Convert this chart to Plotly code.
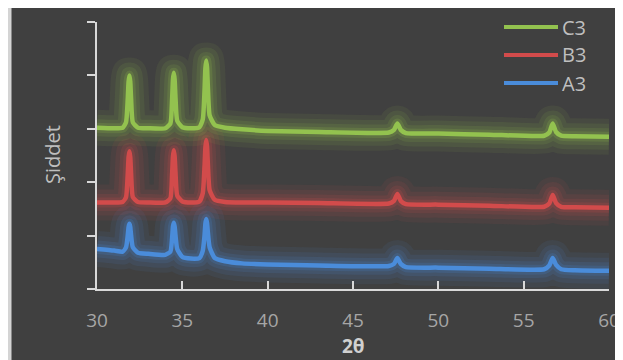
import plotly.graph_objects as go

# ---------------- data ----------------
two_theta = [30, 31, 31.5, 31.7, 31.8, 31.85, 31.9, 31.95, 32.0, 32.1, 32.4, 33, 34,
             34.3, 34.4, 34.45, 34.5, 34.55, 34.6, 34.7, 35.0, 35.5, 36.0,
             36.2, 36.3, 36.35, 36.4, 36.45, 36.5, 36.6, 36.9, 37.5, 38.5, 40, 43,
             47.1, 47.4, 47.6, 47.8, 48.1, 50, 53, 56.2, 56.5, 56.7, 56.9, 57.2, 58, 60]

c3 = [3.02, 3.01, 3.02, 3.12, 3.55, 3.88, 4.00, 3.88, 3.55, 3.12, 3.02, 3.01, 3.01,
      3.10, 3.55, 3.92, 4.05, 3.92, 3.58, 3.15, 3.03, 3.01, 3.03,
      3.18, 3.72, 4.13, 4.28, 4.14, 3.76, 3.25, 3.07, 3.02, 2.99, 2.96, 2.94,
      2.93, 2.98, 3.10, 2.98, 2.92, 2.91, 2.89, 2.87, 2.93, 3.10, 2.94, 2.87, 2.86, 2.85]

b3 = [1.62, 1.62, 1.63, 1.72, 2.15, 2.47, 2.58, 2.47, 2.15, 1.72, 1.63, 1.62, 1.62,
      1.70, 2.15, 2.48, 2.60, 2.48, 2.18, 1.75, 1.64, 1.62, 1.64,
      1.80, 2.30, 2.65, 2.79, 2.66, 2.32, 1.85, 1.67, 1.63, 1.62, 1.62, 1.61,
      1.60, 1.65, 1.78, 1.65, 1.59, 1.58, 1.56, 1.54, 1.60, 1.76, 1.61, 1.54, 1.53, 1.52]

a3 = [0.75, 0.72, 0.70, 0.78, 1.00, 1.16, 1.22, 1.16, 1.00, 0.78, 0.68, 0.66, 0.64,
      0.70, 0.95, 1.17, 1.24, 1.17, 1.00, 0.75, 0.60, 0.57, 0.58,
      0.72, 1.00, 1.22, 1.31, 1.23, 1.05, 0.78, 0.58, 0.52, 0.48, 0.46, 0.44,
      0.43, 0.47, 0.58, 0.47, 0.41, 0.40, 0.38, 0.37, 0.44, 0.58, 0.45, 0.37, 0.35, 0.34]

series_names = ["C3", "B3", "A3"]
x_ticks = [30, 35, 40, 45, 50, 55, 60]
y_ticks = [0, 1, 2, 3, 4, 5]

# ---------------- style ----------------
colors = {"C3": (147, 194, 79), "B3": (210, 75, 75), "A3": (74, 140, 218)}
BG = "#404040"
AX = "#d9d9d9"
TXT = "#a6a6a6"
FONT = "Open Sans"

series = {"C3": c3, "B3": b3, "A3": a3}
fig = go.Figure()

glow_layers = [(36, 0.08), (26, 0.10), (17, 0.13), (10, 0.18)]
for name in ["A3", "B3", "C3"]:
    r, g, b = colors[name]
    for w, a in glow_layers:
        fig.add_trace(go.Scatter(x=two_theta, y=series[name], mode="lines",
                                 line=dict(color=f"rgba({r},{g},{b},{a})", width=w,
                                           shape="spline", smoothing=0.5),
                                 hoverinfo="skip", showlegend=False))
for name in ["A3", "B3", "C3"]:
    r, g, b = colors[name]
    fig.add_trace(go.Scatter(x=two_theta, y=series[name], mode="lines", name=name,
                             line=dict(color=f"rgb({r},{g},{b})", width=4.5,
                                       shape="spline", smoothing=0.5),
                             showlegend=False))

# page body adds an 8px offset; figure pixel coords = screen - 8
OFF = 8
FW, FH = 623 - OFF, 360 - OFF
L, R, T, B = 97 - OFF, 609 - OFF, 22 - OFF, 289 - OFF
W, H = R - L, B - T


def px(xs):  # screen x pixel -> paper
    return (xs - OFF - L) / W


def py(ys):  # screen y pixel -> paper
    return (B - (ys - OFF)) / H


shapes = []
# light border strip at left
shapes.append(dict(type="rect", xref="paper", yref="paper", x0=px(8), x1=px(11.5),
                   y0=py(360), y1=py(8), fillcolor="#d4d4d4", line=dict(width=0), layer="below"))

# custom legend
annotations = []
legend_rows = {"C3": 27, "B3": 55, "A3": 83}
for name in series_names:
    r, g, b = colors[name]
    yy = py(legend_rows[name])
    shapes.append(dict(type="line", xref="paper", yref="paper", x0=px(504), x1=px(558),
                       y0=yy, y1=yy, line=dict(color=f"rgb({r},{g},{b})", width=4)))
    annotations.append(dict(text=name, xref="paper", yref="paper", x=px(560), y=yy,
                            xanchor="left", yanchor="middle", showarrow=False,
                            font=dict(family=FONT, size=20, color="#bfbfbf")))

annotations.append(dict(text="<b>2θ</b>", xref="paper", yref="paper", x=px(353), y=py(346),
                        xanchor="center", yanchor="middle", showarrow=False,
                        font=dict(family=FONT, size=19, color="#d0d0d0")))
annotations.append(dict(text="Şiddet", xref="paper", yref="paper", x=px(52), y=py(155),
                        xanchor="center", yanchor="middle", showarrow=False, textangle=-90,
                        font=dict(family=FONT, size=20, color="#bfbfbf")))

fig.update_layout(
    width=FW, height=FH,
    margin=dict(l=L, r=FW - R, t=T, b=FH - B, autoexpand=False),
    paper_bgcolor=BG, plot_bgcolor=BG,
    shapes=shapes, annotations=annotations,
    showlegend=False,
    font=dict(family=FONT, color=TXT),
)
fig.update_xaxes(range=[30, 60], tickvals=x_ticks, ticks="inside", ticklen=8, tickwidth=1.5,
                 tickcolor=AX, showline=True, linecolor=AX, linewidth=1.5, showgrid=False,
                 zeroline=False, tickfont=dict(family=FONT, size=19, color=TXT),
                 ticklabelstandoff=13)
fig.update_yaxes(range=[0, 5], tickvals=y_ticks, ticks="outside", ticklen=8, tickwidth=1.5,
                 tickcolor=AX, showline=True, linecolor=AX, linewidth=1.5, showgrid=False,
                 zeroline=False, showticklabels=False)

fig.write_html("out.html")
